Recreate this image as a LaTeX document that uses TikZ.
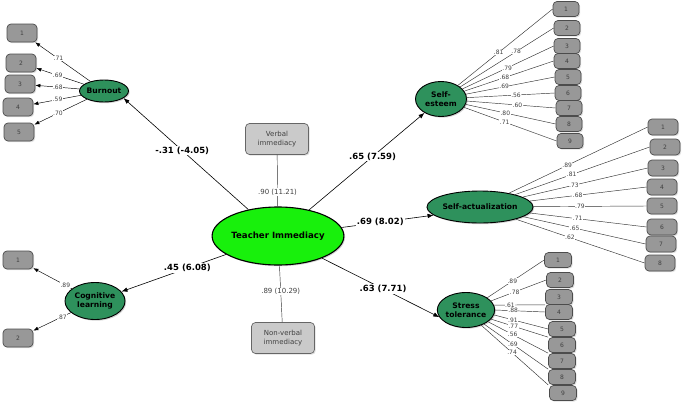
\documentclass[tikz,border=0pt]{standalone}
\usepackage{fontspec}
\setmainfont{DejaVu Sans}
\usetikzlibrary{shapes.geometric,shadows,arrows.meta}

\definecolor{latent}{RGB}{46,145,92}
\definecolor{corefill}{RGB}{24,240,12}
\definecolor{itemgray}{RGB}{152,152,152}
\definecolor{indgray}{RGB}{202,202,202}

\begin{document}
\begin{tikzpicture}[x=1pt,y=-1pt,
	lat/.style={ellipse,draw=black,line width=0.9pt,fill=latent,inner sep=0pt,align=center,
		font=\fontsize{7.6}{8.8}\selectfont\bfseries,
		drop shadow={shadow xshift=1.2pt,shadow yshift=-1.2pt,fill=black!35}},
	core/.style={lat,fill=corefill,line width=1.1pt,minimum width=127pt,minimum height=58pt,
		font=\fontsize{8.6}{10}\selectfont\bfseries},
	obs/.style={draw=black!70,line width=0.7pt,fill=itemgray,rounded corners=4pt,inner sep=0pt,
		minimum width=27pt,minimum height=15pt,text=black!75,font=\fontsize{6}{7}\selectfont,
		drop shadow={shadow xshift=1.2pt,shadow yshift=-1.2pt,fill=black!25}},
	bigobs/.style={minimum width=30pt,minimum height=18pt},
	ind/.style={obs,fill=indgray,draw=black!60,minimum width=63pt,minimum height=31pt,align=center,
		font=\fontsize{7}{8.4}\selectfont},
	load/.style={fill=white,inner sep=0.5pt,text=black!75,font=\fontsize{6}{7}\selectfont},
	indload/.style={load,font=\fontsize{7}{8}\selectfont},
	coef/.style={fill=white,inner sep=1pt,font=\fontsize{8.5}{10}\selectfont\bfseries},
	arr/.style={-{Latex[length=6pt,width=4.5pt]},line width=0.6pt},
	itemarr/.style={-{Latex[length=5pt,width=3.8pt]},line width=0.45pt},
	lnk/.style={draw=black!80,line width=0.45pt}]
	\useasboundingbox (0,0) rectangle (685,405);

	\node[core] (ti) at (278,236) {Teacher Immediacy};
	\node[ind] (vi) at (277,139) {Verbal\\immediacy};
	\node[ind] (nv) at (283,338) {Non-verbal\\immediacy};

	\node[lat,minimum width=48pt,minimum height=22pt] (bo) at (104,91) {Burnout};
	\node[lat,minimum width=51pt,minimum height=35pt] (se) at (441,99) {Self-\\esteem};
	\node[lat,minimum width=87pt,minimum height=32pt] (sa) at (480,207) {Self-actualization};
	\node[lat,minimum width=57pt,minimum height=35pt] (st) at (466,310) {Stress\\tolerance};
	\node[lat,minimum width=60pt,minimum height=37pt] (cl) at (95,301) {Cognitive\\learning};

	\node[obs,bigobs] (bo1) at (22,33) {1};
	\node[obs,bigobs] (bo2) at (21,63) {2};
	\node[obs,bigobs] (bo3) at (20,84) {3};
	\node[obs,bigobs] (bo4) at (18,107) {4};
	\node[obs,bigobs] (bo5) at (19,132) {5};

	\node[obs,bigobs] (cl1) at (18,260) {1};
	\node[obs,bigobs] (cl2) at (18,338) {2};

	\node[obs,minimum width=26pt] (se1) at (566,9) {1};
	\node[obs,minimum width=26pt] (se2) at (567,28) {2};
	\node[obs,minimum width=26pt] (se3) at (567,46) {3};
	\node[obs,minimum width=26pt] (se4) at (567,61) {4};
	\node[obs,minimum width=26pt] (se5) at (568,77) {5};
	\node[obs,minimum width=26pt] (se6) at (568,93) {6};
	\node[obs,minimum width=26pt] (se7) at (569,108) {7};
	\node[obs,minimum width=26pt] (se8) at (569,124) {8};
	\node[obs,minimum width=26pt] (se9) at (570,141) {9};

	\node[obs,minimum width=30pt,minimum height=16pt] (sa1) at (663,127) {1};
	\node[obs,minimum width=30pt,minimum height=16pt] (sa2) at (665,147) {2};
	\node[obs,minimum width=30pt,minimum height=16pt] (sa3) at (663,168) {3};
	\node[obs,minimum width=30pt,minimum height=16pt] (sa4) at (662,187) {4};
	\node[obs,minimum width=30pt,minimum height=16pt] (sa5) at (662,206) {5};
	\node[obs,minimum width=30pt,minimum height=16pt] (sa6) at (662,227) {6};
	\node[obs,minimum width=30pt,minimum height=16pt] (sa7) at (661,244) {7};
	\node[obs,minimum width=30pt,minimum height=16pt] (sa8) at (660,263) {8};

	\node[obs] (st1) at (558,260) {1};
	\node[obs] (st2) at (560,280) {2};
	\node[obs] (st3) at (559,297) {3};
	\node[obs] (st4) at (559,312) {4};
	\node[obs] (st5) at (562,329) {5};
	\node[obs] (st6) at (562,345) {6};
	\node[obs] (st7) at (562,361) {7};
	\node[obs] (st8) at (562,377) {8};
	\node[obs] (st9) at (563,393) {9};

	\draw[lnk] (vi) -- node[indload,pos=0.72] {.90 (11.21)} (ti);
	\draw[lnk] (ti) -- node[indload,pos=0.46] {.89 (10.29)} (nv);

	\draw[arr] (ti) -- node[coef,pos=0.53] {-.31 (-4.05)} (bo.-20);
	\draw[arr] (ti) -- node[coef,pos=0.55] {.65 (7.59)} (se);
	\draw[arr] (ti) -- node[coef,pos=0.42] {.69 (8.02)} (sa.190);
	\draw[arr] (ti) -- node[coef,pos=0.52] {.63 (7.71)} (st.195);
	\draw[arr] (ti) -- node[coef,pos=0.37] {.45 (6.08)} (cl);

	\draw[itemarr] (bo) -- node[load,pos=0.58] {.71} (bo1);
	\draw[itemarr] (bo) -- node[load,pos=0.55] {.69} (bo2);
	\draw[itemarr] (bo) -- node[load,pos=0.49] {.68} (bo3);
	\draw[itemarr] (bo) -- node[load,pos=0.49] {.59} (bo4);
	\draw[itemarr] (bo) -- node[load,pos=0.55] {.70} (bo5);

	\draw[itemarr] (cl) -- node[load,pos=0.17] {.89} (cl1);
	\draw[itemarr] (cl) -- node[load,pos=0.24] {.87} (cl2);

	\draw[lnk] (se) -- node[load,pos=0.43] {.81} (se1.west);
	\draw[lnk] (se) -- node[load,pos=0.60] {.78} (se2.west);
	\draw[lnk] (se) -- node[load,pos=0.49] {.79} (se3.west);
	\draw[lnk] (se) -- node[load,pos=0.45] {.68} (se4.west);
	\draw[lnk] (se) -- node[load,pos=0.43] {.69} (se5.west);
	\draw[lnk] (se) -- node[load,pos=0.56] {.56} (se6.west);
	\draw[lnk] (se) -- node[load,pos=0.57] {.60} (se7.west);
	\draw[lnk] (se) -- node[load,pos=0.44] {.80} (se8.west);
	\draw[lnk] (se) -- node[load,pos=0.44] {.71} (se9.west);

	\draw[lnk] (sa) -- node[load,pos=0.42] {.89} (sa1.west);
	\draw[lnk] (sa) -- node[load,pos=0.42] {.81} (sa2.west);
	\draw[lnk] (sa) -- node[load,pos=0.41] {.73} (sa3.west);
	\draw[lnk] (sa) -- node[load,pos=0.41] {.68} (sa4.west);
	\draw[lnk] (sa) -- node[load,pos=0.41] {.79} (sa5.west);
	\draw[lnk] (sa) -- node[load,pos=0.41] {.71} (sa6.west);
	\draw[lnk] (sa) -- node[load,pos=0.42] {.65} (sa7.west);
	\draw[lnk] (sa) -- node[load,pos=0.42] {.62} (sa8.west);

	\draw[lnk] (st.30) -- node[load,pos=0.44] {.89} (st1.west);
	\draw[lnk] (st.20) -- node[load,pos=0.43] {.78} (st2.west);
	\draw[lnk] (st.10) -- node[load,pos=0.31] {.61} (st3.south west);
	\draw[lnk] (st.0) -- node[load,pos=0.36] {.88} (st4.west);
	\draw[lnk] (st.-10) -- node[load,pos=0.35] {.91} (st5.west);
	\draw[lnk] (st.-20) -- node[load,pos=0.39] {.77} (st6.north west);
	\draw[lnk] (st.-28) -- node[load,pos=0.41] {.56} (st7.north west);
	\draw[lnk] (st.-38) -- node[load,pos=0.45] {.69} (st8.north west);
	\draw[lnk] (st.-45) -- node[load,pos=0.46] {.74} (st8.south west);
\end{tikzpicture}
\end{document}
